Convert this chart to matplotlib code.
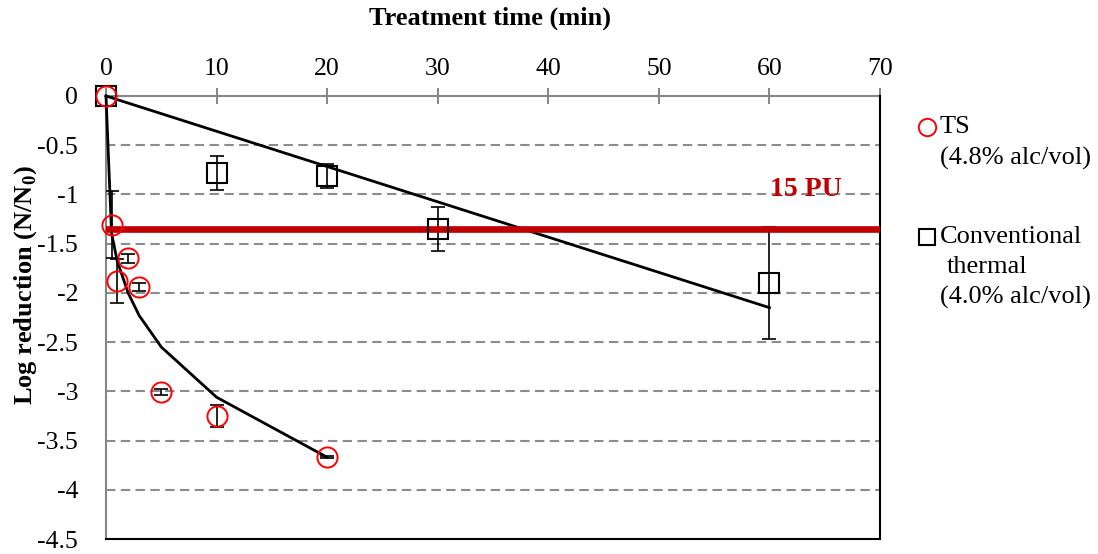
import matplotlib.pyplot as plt
import matplotlib.lines as mlines

plt.rcParams["font.family"] = ["Liberation Serif", "DejaVu Serif"]
plt.rcParams["mathtext.fontset"] = "custom"
plt.rcParams["mathtext.rm"] = "Liberation Serif"
plt.rcParams["mathtext.bf"] = "Liberation Serif:bold"

# TS (4.8% alc/vol): measured points and fitted curve
ts_time = [0, 0.5, 1, 2, 3, 5, 10, 20]
ts_logred = [0, -1.31, -1.88, -1.65, -1.94, -3.01, -3.25, -3.67]
ts_err = [0, 0.34, 0.22, 0.05, 0.04, 0.03, 0.11, 0.01]
ts_fit = [0, -1.39, -1.67, -2.0, -2.23, -2.55, -3.06, -3.67]

# conventional thermal (4.0% alc/vol)
ct_time = [0, 10, 20, 30, 60]
ct_logred = [0, -0.78, -0.81, -1.35, -1.90]
ct_err = [0, 0.17, 0.12, 0.22, 0.57]
ct_fit_time = [0, 60]
ct_fit = [0, -2.15]

pu_level = -1.35
pu_label = "15 PU"

xticks = [0, 10, 20, 30, 40, 50, 60, 70]
yticks = [0, -0.5, -1, -1.5, -2, -2.5, -3, -3.5, -4, -4.5]

red = "#C00000"
gray = "#868686"

fig = plt.figure(figsize=(10.98, 5.54), dpi=100)
ax = fig.add_axes([106 / 1098, 1 - 539 / 554, (880 - 106) / 1098, (539 - 96) / 554])

for y in yticks[1:-1]:
    ax.axhline(y, color="#8c8c8c", lw=1.5, linestyle=(0, (4.5, 2.6)), zorder=1)

# fitted lines
ax.plot(ts_time, ts_fit, color="black", lw=2, zorder=3, clip_on=False)
ax.plot(ct_fit_time, ct_fit, color="black", lw=2, zorder=3, clip_on=False)

# error bars + markers
ax.errorbar(ts_time, ts_logred, yerr=ts_err, fmt="none", ecolor="black",
            elinewidth=1.2, capsize=5, capthick=1.2, zorder=4)
ax.errorbar(ct_time, ct_logred, yerr=ct_err, fmt="none", ecolor="black",
            elinewidth=1.2, capsize=5, capthick=1.2, zorder=4)

ax.axhline(pu_level, color=red, lw=4.8, zorder=5)
ax.text(63.3, -0.95, pu_label, color=red, fontsize=20, fontweight="bold",
        ha="center", va="center", zorder=6)

ax.plot(ct_time, ct_logred, linestyle="none", marker="s", markersize=14,
        markerfacecolor="none", markeredgecolor="black", markeredgewidth=1.5,
        zorder=6, clip_on=False)
ax.plot(ts_time, ts_logred, linestyle="none", marker="o", markersize=14.5,
        markerfacecolor="none", markeredgecolor="#FF0000", markeredgewidth=1.4,
        zorder=7, clip_on=False)

ax.set_xlim(0, 70)
ax.set_ylim(-4.5, 0)

ax.xaxis.tick_top()
ax.set_xticks(xticks)
ax.set_xticklabels([str(x) for x in xticks])
ax.tick_params(axis="x", direction="inout", length=11, width=1.4, color=gray,
               labelsize=18.5, pad=6)
ax.set_yticks(yticks)
ax.set_yticklabels(["%g" % y for y in yticks])
ax.tick_params(axis="y", length=0, labelsize=18.5, pad=20)

ax.spines["top"].set_color(gray)
ax.spines["left"].set_color(gray)
ax.spines["top"].set_linewidth(1.5)
ax.spines["left"].set_linewidth(1.5)
ax.spines["right"].set_color("black")
ax.spines["bottom"].set_color("black")
ax.spines["right"].set_linewidth(1.5)
ax.spines["bottom"].set_linewidth(1.5)
ax.spines["top"].set_zorder(2)

fig.text(490 / 1098, 1 - 18 / 554, "Treatment time (min)", fontsize=19,
         fontweight="bold", ha="center", va="center")
fig.text(26 / 1098, 1 - 285 / 554, "Log reduction (N/N$_\\mathbf{0}$)", fontsize=19,
         fontweight="bold", ha="center", va="center", rotation=90)

# legend drawn by hand
leg_circle = mlines.Line2D([927 / 1098], [1 - 127 / 554], marker="o", markersize=12.5,
                           markerfacecolor="none", markeredgecolor="#FF0000",
                           markeredgewidth=1.4, linestyle="none", transform=fig.transFigure)
leg_square = mlines.Line2D([927 / 1098], [1 - 237 / 554], marker="s", markersize=12,
                           markerfacecolor="none", markeredgecolor="black",
                           markeredgewidth=1.5, linestyle="none", transform=fig.transFigure)
fig.add_artist(leg_circle)
fig.add_artist(leg_square)
legend_lines = [
    (940, 127, "TS"),
    (940, 158, "(4.8% alc/vol)"),
    (940, 237, "Conventional"),
    (947, 267, "thermal"),
    (940, 297, "(4.0% alc/vol)"),
]
for lx, ly, txt in legend_lines:
    fig.text(lx / 1098, 1 - ly / 554, txt, fontsize=19, ha="left", va="center")

fig.savefig("out.png", dpi=100)
